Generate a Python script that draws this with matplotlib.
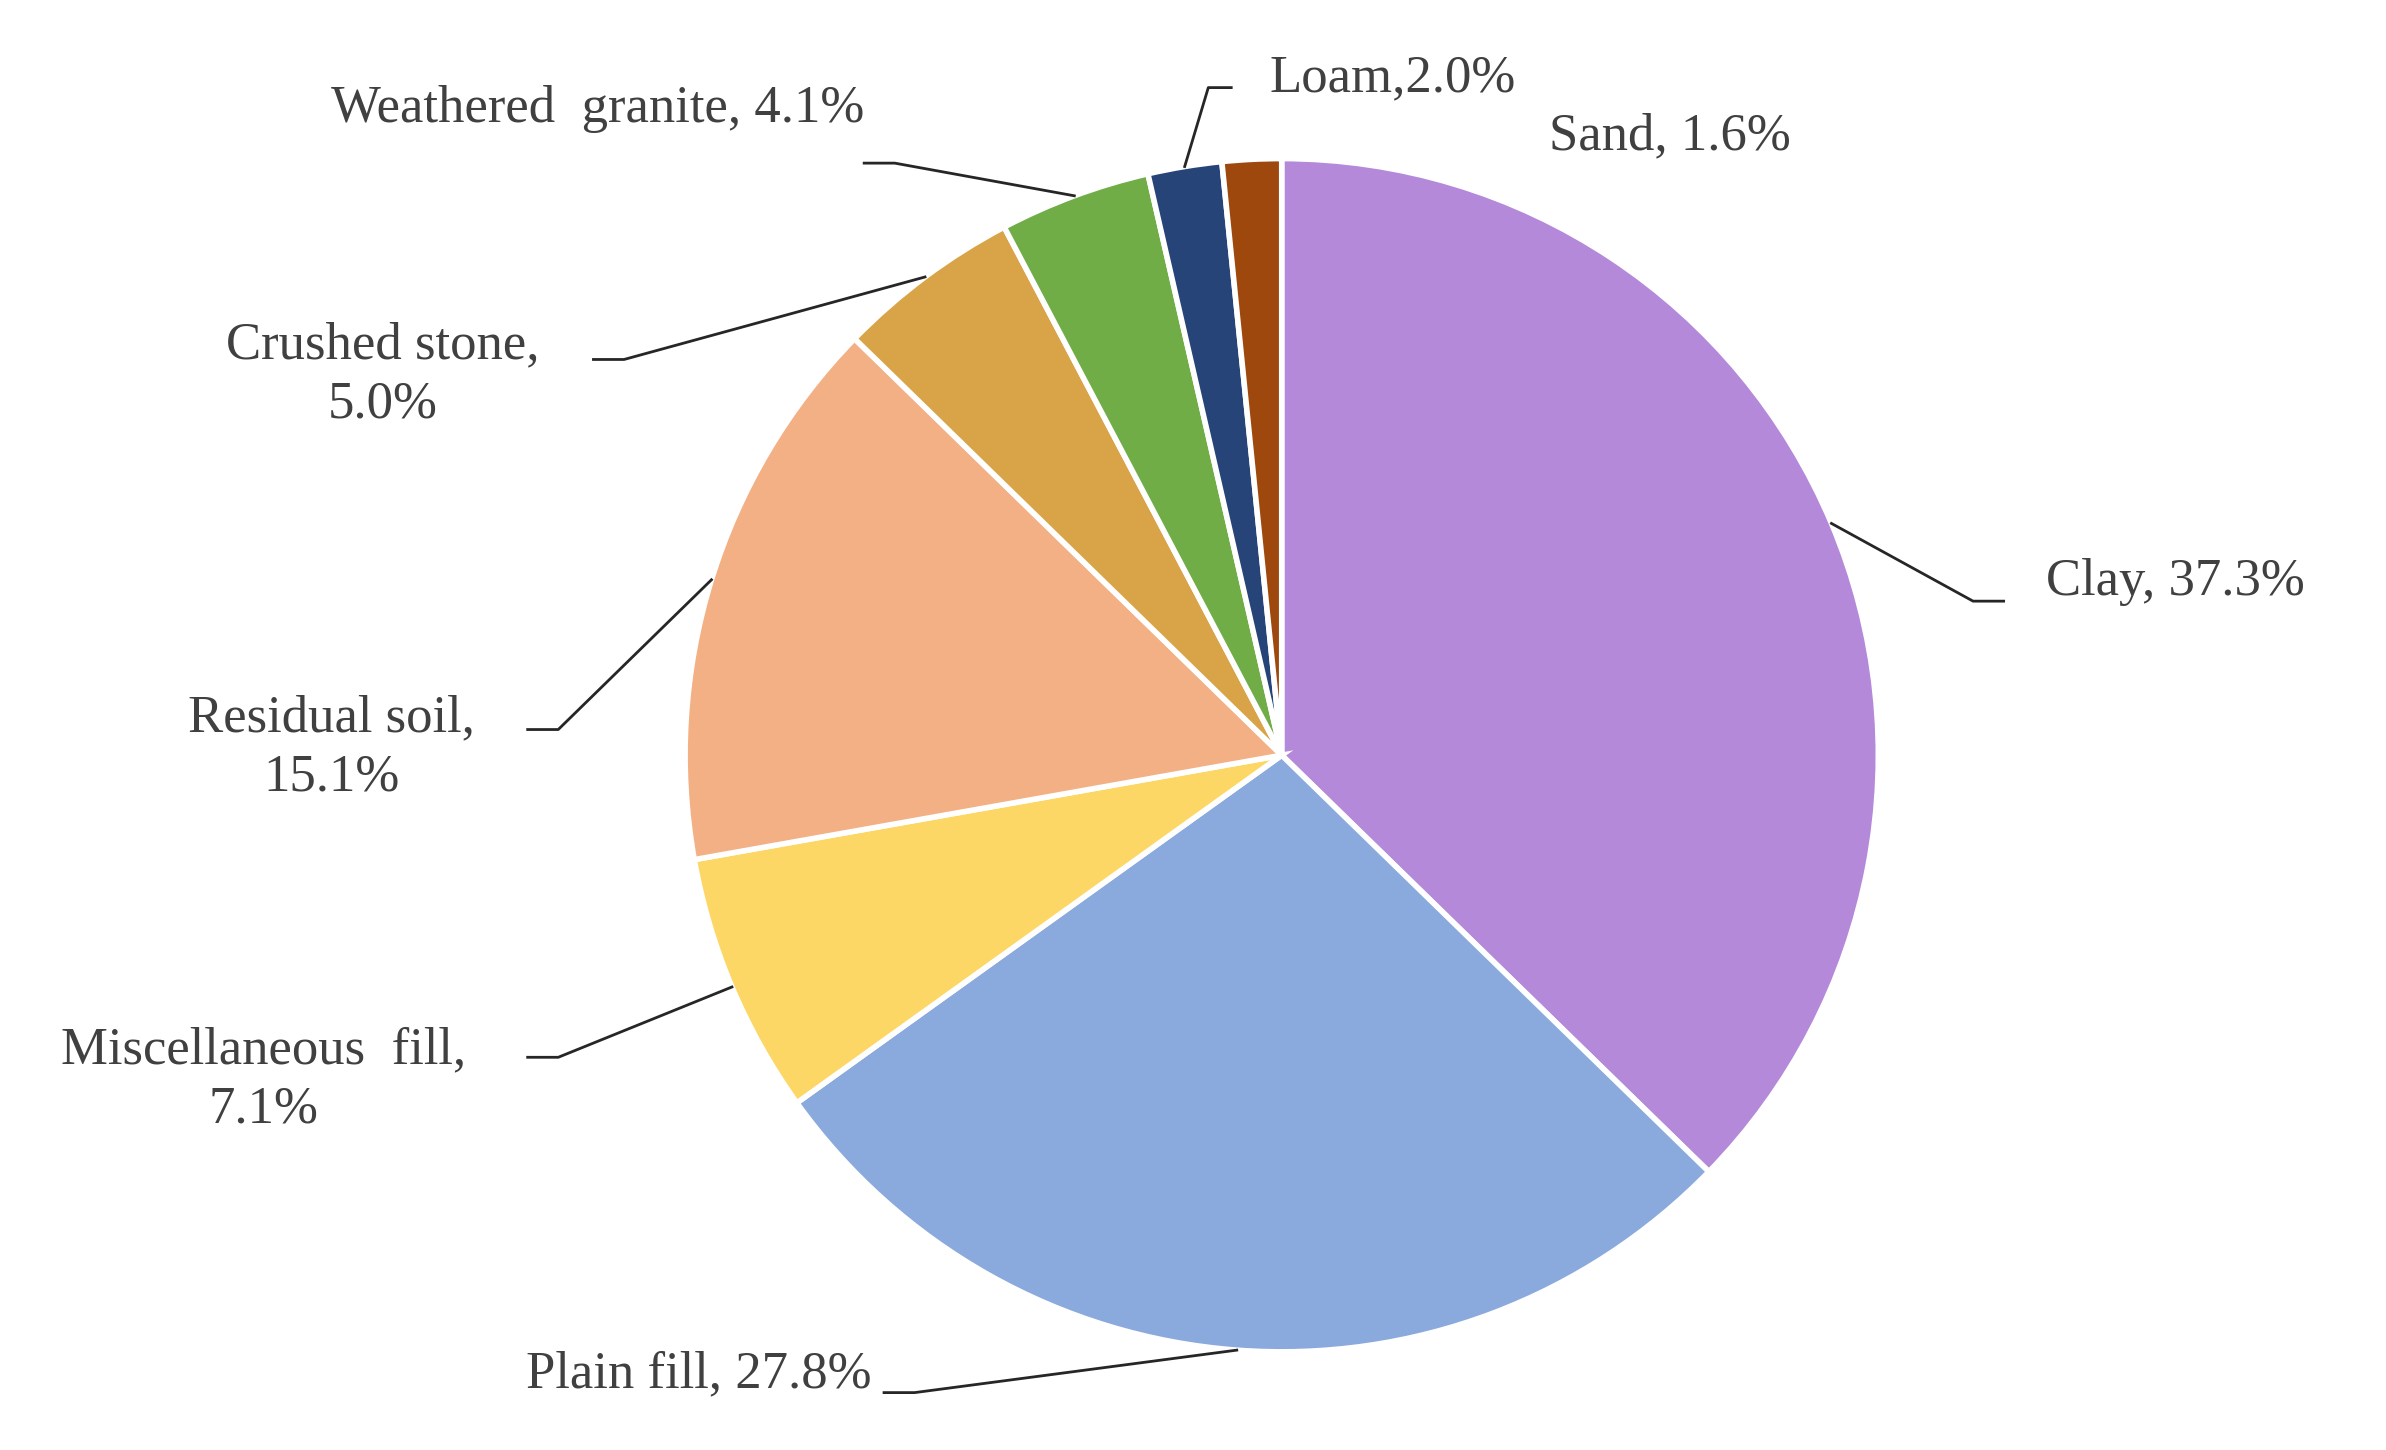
import matplotlib
matplotlib.use("Agg")
import matplotlib.pyplot as plt
import numpy as np

categories = ["Clay", "Plain fill", "Miscellaneous fill", "Residual soil",
              "Crushed stone", "Weathered granite", "Loam", "Sand"]
values = [37.3, 27.8, 7.1, 15.1, 5.0, 4.1, 2.0, 1.6]
labels = ["Clay, 37.3%", "Plain fill, 27.8%", "Miscellaneous  fill,\n7.1%",
          "Residual soil,\n15.1%", "Crushed stone,\n5.0%", "Weathered  granite, 4.1%",
          "Loam,2.0%", "Sand, 1.6%"]
colors = ["#B589DA", "#8AA9DC", "#FDD766", "#F3B084", "#D9A447", "#70AD47", "#264478", "#9E480E"]

W, H = 1560, 960
fig = plt.figure(figsize=(23.86, 14.5), dpi=100)
cx, cy, r = 838 / W, 1 - 500 / H, 395 / H
aw = 2 * r * 1450 / 2386
ax = fig.add_axes([cx - aw / 2, cy - r, aw, 2 * r])
wedges, _ = ax.pie(values, colors=colors, startangle=90, counterclock=False,
                   wedgeprops=dict(edgecolor="white", linewidth=4))
ax.set_xlim(-1, 1); ax.set_ylim(-1, 1)

# text anchor (x, y in ref px), ha, line elbow endpoints
specs = [
    ((1338, 385), "left", [(1310, 398), (1290, 398)]),
    ((570, 910), "right", [(578, 922), (598, 922)]),
    ((172, 715), "center", [(345, 700), (365, 700)]),
    ((217, 495), "center", [(345, 483), (365, 483)]),
    ((250, 248), "center", [(388, 238), (408, 238)]),
    ((565, 72), "right", [(565, 108), (585, 108)]),
    ((830, 52), "left", [(805, 58), (790, 58)]),
    ((1013, 90), "left", None),
]
tc = "#404040"
for w, lab, (pos, ha, line) in zip(wedges, labels, specs):
    tx, ty = pos[0] / W, 1 - pos[1] / H
    fig.text(tx, ty, lab, ha=ha, va="center", fontsize=38, color=tc,
             family="Liberation Serif", linespacing=1.3)
    if line:
        ang = np.deg2rad((w.theta1 + w.theta2) / 2)
        p = ax.transData.transform((np.cos(ang) * 1.0, np.sin(ang) * 1.0))
        px, py = fig.transFigure.inverted().transform(p)
        (x1, y1), (x2, y2) = line
        xs = [px, x2 / W, x1 / W]
        ys = [py, 1 - y2 / H, 1 - y1 / H]
        fig.add_artist(plt.Line2D(xs, ys, transform=fig.transFigure, color="#262626", lw=2))

fig.savefig("out.png", dpi=100, facecolor="white")
